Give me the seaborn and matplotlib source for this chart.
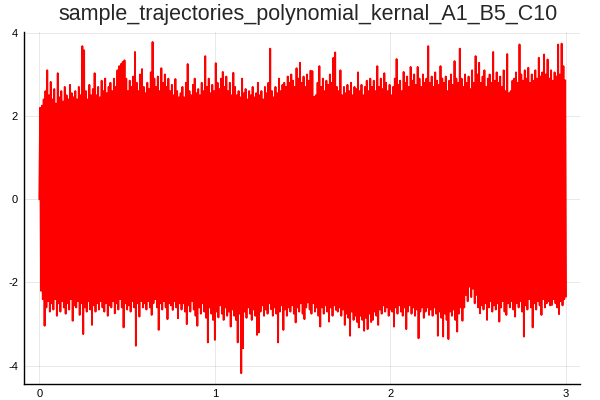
import numpy as np
import pandas as pd
import matplotlib
matplotlib.use("Agg")
import matplotlib.pyplot as plt
import seaborn as sns

TITLE = "sample_trajectories_polynomial_kernal_A1_B5_C10"

# trajectory starts here, then swings between the highs and lows
start_value = 0.0
t_start, t_end = 0.0, 3.0

# upper swings, left to right (10 per row, each row ~0.1 of time)
upper_peaks = [
    2.2, 2.25, 2.4, 2.6, 3.10, 2.5, 2.82, 2.4, 2.65, 2.3,
    3.03, 2.45, 2.6, 2.35, 2.7, 2.5, 2.4, 2.75, 2.55, 2.45,
    2.6, 2.4, 2.7, 2.5, 3.68, 3.58, 2.6, 2.4, 2.75, 2.5,
    2.65, 3.03, 2.5, 2.7, 2.45, 2.85, 2.6, 2.9, 2.55, 2.7,
    2.8, 2.6, 2.9, 2.7, 3.1, 3.2, 3.25, 3.3, 3.34, 2.9,
    2.6, 2.85, 2.7, 2.95, 3.54, 2.8, 2.6, 3.0, 3.13, 2.7,
    2.55, 2.8, 2.65, 3.05, 3.78, 2.9, 2.7, 2.95, 2.6, 3.15,
    2.8, 3.0, 2.7, 2.9, 2.6, 2.75, 2.5, 2.89, 2.6, 2.45,
    2.55, 2.7, 2.45, 2.8, 3.25, 2.6, 2.5, 2.75, 2.9, 2.55,
    2.65, 2.5, 2.8, 2.6, 3.44, 2.7, 2.9, 2.55, 2.75, 2.6,
    3.27, 2.8, 2.65, 2.9, 3.06, 2.7, 2.95, 2.6, 2.8, 2.5,
    3.04, 2.7, 2.5, 2.6, 2.45, 2.9, 2.55, 2.65, 2.4, 2.6,
    2.5, 2.7, 2.45, 2.55, 2.8, 2.5, 2.6, 2.4, 2.7, 2.55,
    2.8, 3.62, 2.6, 2.45, 2.7, 2.55, 2.9, 2.6, 2.75, 2.8,
    2.7, 2.95, 2.8, 3.0, 2.85, 2.7, 3.15, 2.9, 3.28, 2.8,
    2.95, 2.7, 3.0, 2.85, 3.09, 3.08, 2.46, 2.5, 2.8, 3.2,
    2.7, 2.9, 2.6, 2.85, 2.75, 3.0, 2.8, 3.4, 3.53, 2.7,
    2.6, 3.1, 2.5, 2.7, 2.55, 2.75, 2.6, 2.8, 2.5, 2.7,
    2.65, 3.05, 2.6, 2.75, 2.5, 2.7, 2.85, 2.6, 2.9, 2.7,
    2.85, 2.6, 3.2, 2.7, 2.9, 2.65, 3.03, 2.8, 2.6, 2.75,
    2.5, 2.7, 2.9, 3.37, 2.75, 2.85, 2.6, 3.06, 2.8, 2.95,
    2.7, 3.18, 2.85, 3.0, 2.75, 3.18, 2.9, 2.7, 3.0, 2.8,
    2.9, 3.68, 2.8, 2.95, 2.7, 3.05, 2.85, 2.75, 3.2, 2.9,
    2.8, 2.95, 2.6, 2.85, 3.0, 2.75, 3.32, 2.9, 2.8, 3.62,
    2.9, 2.7, 3.0, 2.8, 2.95, 2.65, 3.1, 2.8, 3.44, 3.0,
    3.28, 2.8, 2.95, 3.1, 2.7, 2.9, 3.0, 2.8, 3.54, 2.85,
    3.05, 2.8, 2.95, 2.7, 3.1, 2.6, 3.49, 2.55, 2.6, 2.85,
    2.9, 3.05, 2.8, 3.72, 3.0, 2.85, 3.1, 2.9, 3.16, 2.8,
    3.0, 2.85, 3.1, 2.9, 3.4, 2.95, 3.05, 3.48, 3.0, 3.36,
    2.9, 3.1, 2.85, 3.05, 2.95, 3.72, 3.0, 3.74, 3.2, 2.86,
]

# lower swings, left to right
lower_troughs = [
    -2.2, -2.4, -3.04, -2.6, -2.45, -2.7, -2.5, -2.65, -2.4, -2.80,
    -2.5, -2.7, -2.45, -2.6, -2.75, -2.5, -2.65, -2.4, -2.92, -2.55,
    -2.6, -2.45, -2.78, -2.5, -3.24, -2.6, -2.7, -2.45, -2.65, -3.02,
    -2.55, -2.7, -2.5, -2.65, -2.45, -2.6, -2.7, -2.5, -2.8, -2.55,
    -2.6, -2.45, -2.74, -2.5, -2.65, -2.4, -2.6, -3.08, -2.5, -2.65,
    -2.55, -2.7, -2.45, -2.6, -3.52, -2.5, -2.82, -2.45, -2.6, -2.5,
    -2.65, -2.45, -2.6, -2.78, -2.5, -2.4, -2.6, -3.14, -2.5, -2.65,
    -2.45, -2.6, -2.88, -2.5, -2.55, -2.66, -2.45, -2.6, -2.86, -2.5,
    -2.65, -2.5, -2.7, -3.0, -2.55, -2.7, -2.45, -2.65, -2.8, -3.04,
    -2.6, -2.75, -2.5, -2.7, -2.85, -3.44, -2.6, -2.75, -2.9, -3.38,
    -2.7, -2.84, -2.55, -2.75, -2.9, -2.6, -2.8, -2.7, -3.06, -2.65,
    -2.8, -2.9, -3.44, -2.75, -4.18, -3.58, -2.7, -2.85, -2.6, -2.75,
    -2.9, -2.65, -2.8, -3.26, -3.2, -2.7, -2.55, -2.8, -2.65, -2.75,
    -2.5, -2.64, -2.8, -2.6, -2.75, -3.44, -2.7, -2.55, -3.14, -2.65,
    -2.8, -2.6, -2.7, -2.55, -2.75, -2.96, -2.6, -2.7, -2.5, -2.75,
    -2.88, -2.6, -2.48, -2.65, -2.75, -2.5, -2.7, -2.6, -2.8, -3.06,
    -2.6, -2.75, -2.55, -2.7, -2.94, -2.6, -2.8, -2.55, -2.66, -2.7,
    -2.6, -2.8, -2.65, -3.02, -2.75, -2.85, -3.28, -2.7, -2.9, -2.8,
    -2.95, -3.08, -2.8, -2.9, -3.16, -2.85, -3.12, -2.75, -2.95, -2.9,
    -2.7, -2.8, -3.02, -2.65, -2.75, -2.55, -2.7, -2.6, -2.8, -2.65,
    -2.7, -3.06, -2.6, -2.75, -2.55, -2.7, -2.8, -2.6, -3.12, -2.7,
    -2.55, -2.75, -2.6, -2.8, -2.65, -3.34, -2.7, -2.6, -2.85, -2.7,
    -2.6, -2.78, -2.65, -2.8, -2.6, -2.75, -3.28, -2.7, -2.85, -3.3,
    -2.75, -2.9, -3.36, -2.7, -2.8, -2.65, -2.9, -3.18, -2.75, -2.6,
    -2.92, -2.6, -2.3, -2.45, -2.1, -2.35, -2.15, -2.5, -2.3, -2.6,
    -2.74, -2.55, -2.65, -2.5, -2.9, -2.6, -2.45, -2.7, -2.55, -2.65,
    -2.5, -2.94, -2.6, -2.45, -2.7, -2.78, -2.5, -2.6, -2.45, -2.65,
    -2.82, -2.5, -2.6, -2.45, -2.7, -3.3, -2.55, -2.65, -2.4, -2.6,
    -3.08, -2.5, -2.65, -2.45, -2.55, -2.78, -2.4, -2.6, -2.5, -2.45,
    -2.55, -2.54, -2.4, -2.5, -2.6, -2.76, -2.45, -2.55, -2.4, -2.34,
]

x_ticks = [0, 1, 2, 3]
y_ticks = [-4, -2, 0, 2, 4]


def main():
    sns.set_style("white")
    plt.rcParams["font.family"] = ["Liberation Sans", "DejaVu Sans"]

    # alternate high / low swings into one path
    values = [start_value]
    for hi, lo in zip(upper_peaks, lower_troughs):
        values += [hi, lo]
    t = np.linspace(t_start, t_end, len(values))
    df = pd.DataFrame({"t": t, "x": values})

    fig = plt.figure(figsize=(6, 4), dpi=100)
    ax = fig.add_axes([0.0395, 0.041, 0.927, 0.879])

    sns.lineplot(data=df, x="t", y="x", color="red", linewidth=1.35,
                 sort=False, estimator=None, ax=ax)

    ax.set_xlim(-0.089, 3.079)
    ax.set_ylim(-4.43, 4.02)
    ax.set_xticks(x_ticks)
    ax.set_yticks(y_ticks)
    ax.set_xticklabels([str(v) for v in x_ticks])
    ax.set_yticklabels([str(v) for v in y_ticks])
    ax.set_xlabel("")
    ax.set_ylabel("")

    ax.grid(True, color="black", alpha=0.1, linewidth=0.6)
    ax.set_axisbelow(True)
    for side in ["top", "right"]:
        ax.spines[side].set_visible(False)
    for side in ["left", "bottom"]:
        ax.spines[side].set_color("black")
        ax.spines[side].set_linewidth(1.0)
    ax.tick_params(direction="in", length=4, width=0.8, colors="#333333",
                   labelcolor="black", labelsize=8, pad=4)

    fig.suptitle(TITLE, fontsize=15.5, y=0.99, x=0.513)

    fig.savefig("out.png", dpi=100)
    plt.close(fig)


if __name__ == "__main__":
    main()
